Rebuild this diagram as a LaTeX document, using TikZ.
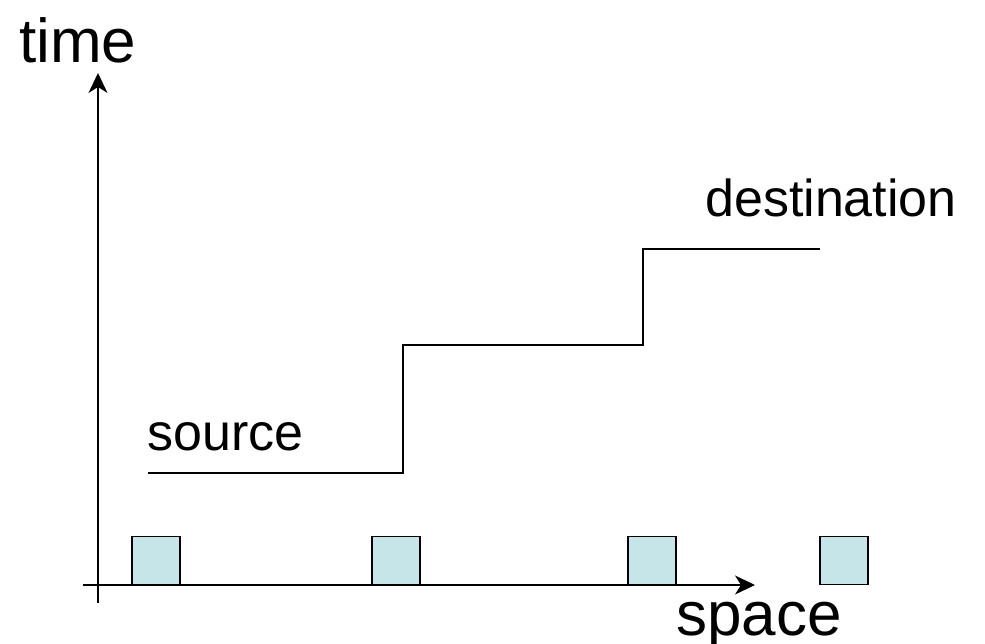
\documentclass[tikz,border=0pt]{standalone}
\usepackage{fontspec}
\setmainfont{Liberation Sans}
\usetikzlibrary{arrows.meta}
\definecolor{boxfill}{RGB}{198,229,232}
\begin{document}
\begin{tikzpicture}[x=1pt,y=-1pt,
  axis/.style={line width=1.5pt,-{Stealth[length=20pt,width=19pt,inset=6pt]}},
  cell/.style={draw,line width=1.5pt,fill=boxfill,minimum width=48pt,minimum height=48pt,inner sep=0pt,anchor=south west},
  steppath/.style={line width=2pt},
  bigtxt/.style={inner sep=0pt,anchor=base west,font=\fontsize{62}{70}\selectfont},
  midtxt/.style={inner sep=0pt,anchor=base west,font=\fontsize{52}{60}\selectfont}]
\useasboundingbox (0,0) rectangle (985,644);
\coordinate (yb) at (98,603);
\coordinate (yt) at (98,73);
\coordinate (xl) at (83,585);
\coordinate (xr) at (755,585);
\node[cell] (c1) at (131,585) {};
\node[cell] (c2) at (371,585) {};
\node[cell] (c3) at (627,585) {};
\node[cell] (c4) at (819,585) {};
\draw[axis] (yb) -- (yt);
\draw[axis] (xl) -- (xr);
\coordinate (s0) at (148,473);
\coordinate (s1) at (403,473);
\coordinate (s2) at (403,345);
\coordinate (s3) at (643,345);
\coordinate (s4) at (643,249);
\coordinate (s5) at (820,249);
\draw[steppath] (s0) -- (s1) -- (s2) -- (s3) -- (s4) -- (s5);
\node[bigtxt] (time) at (19,63) {time};
\node[bigtxt] (space) at (676,635) {space};
\node[midtxt] (dest) at (705,217) {destination};
\node[midtxt] (src) at (147,450) {source};
\end{tikzpicture}
\end{document}
